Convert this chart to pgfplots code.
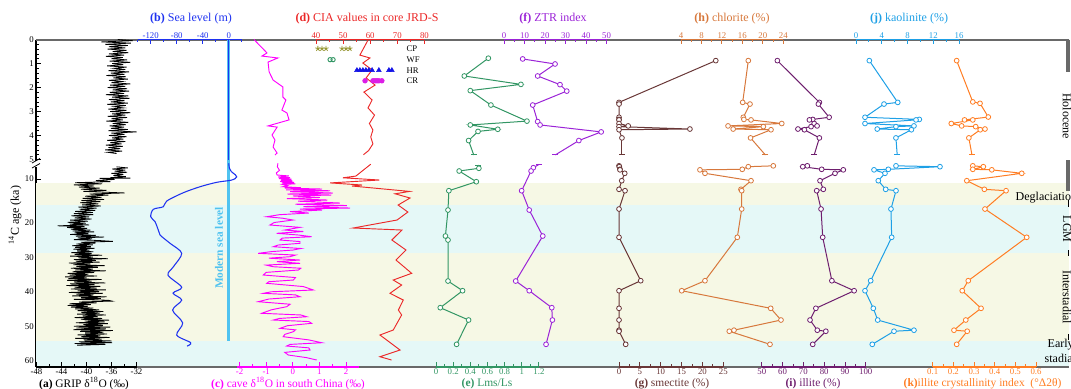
\documentclass[border=0pt]{standalone}
\usepackage{fontspec}
\setmainfont{Liberation Serif}
\usepackage{pgfplots}
\pgfplotsset{compat=1.18}
\definecolor{frameg}{RGB}{105,105,105}
\definecolor{bandY}{RGB}{246,248,229}
\definecolor{bandC}{RGB}{229,248,247}
\definecolor{seab}{RGB}{30,50,240}
\definecolor{modb}{RGB}{80,195,240}
\definecolor{cavem}{RGB}{255,0,255}
\definecolor{ciar}{RGB}{235,40,40}
\definecolor{lmsg}{RGB}{50,150,100}
\definecolor{ztrp}{RGB}{155,35,215}
\definecolor{smeb}{RGB}{105,55,55}
\definecolor{chlo}{RGB}{215,120,60}
\definecolor{illp}{RGB}{110,30,110}
\definecolor{kaob}{RGB}{30,160,230}
\definecolor{icio}{RGB}{255,125,35}
\definecolor{cpo}{RGB}{150,150,50}
\definecolor{hrb}{RGB}{20,20,230}
\definecolor{crm}{RGB}{220,30,230}
\newcommand{\tf}{\fontsize{6.6}{7.5}\selectfont}
\newcommand{\lf}{\fontsize{9}{10}\selectfont}
\newcommand{\blf}{\fontsize{8.6}{9.5}\selectfont}
\pgfplotsset{
  agebase/.style={scale only axis, width=774.75pt, height=245.625pt,
    at={(27pt,-29.625pt)}, anchor=north west, y dir=reverse, ymin=0, ymax=61.73,
    y coord trafo/.code={\pgfmathparse{##1<=6 ? 39.5+24*##1 : (##1<=20 ? 222.5-4.35*(20-##1) : 222.5+3.4625*(##1-20))}}},
  panel/.style={agebase, clip=false, hide y axis, axis line style={draw=none},
    tick align=inside, major tick length=3.5pt, minor tick length=2pt,
    tick style={color=#1, line width=0.7pt},
    xticklabel style={text=#1, font=\tf, inner sep=0.8pt},
    /pgf/number format/assume math mode=true},
  top/.style={panel=#1, xtick pos=right, xticklabel pos=right},
  bot/.style={panel=#1, xtick pos=left, xticklabel pos=left},
  ser/.style={color=#1, line width=0.75pt, mark=*, mark size=1.8pt, mark options={fill=white, line width=0.6pt, solid}},
  endseg/.style={color=#1, line width=0.75pt, mark=-, mark size=2.2pt, mark indices={2}},
}
\begin{document}
\begin{tikzpicture}[x=0.75pt,y=-0.75pt]
% ---------- main frame ----------
\begin{axis}[agebase, xmin=0, xmax=1, axis x line=none, axis y line*=left,
  y axis line style={black, line width=0.8pt},
  ytick={0,1,2,3,4,5,10,20,30,40,50,60},
  yticklabels={0,1,2,3,4,5,10,20,30,40,50,60},
  minor ytick={0.2,0.4,0.6,0.8,1.2,1.4,1.6,1.8,2.2,2.4,2.6,2.8,3.2,3.4,3.6,3.8,4.2,4.4,4.6,4.8,12,14,16,18,22,24,26,28,32,34,36,38,42,44,46,48,52,54,56,58},
  tick align=inside, major tick length=3.5pt, minor tick length=2pt,
  tick style={black, line width=0.6pt}, yticklabel style={font=\tf, inner sep=1.5pt}]
\fill[bandY] (axis cs:0,10.85) rectangle (axis cs:1,16.05);
\fill[bandC] (axis cs:0,16.05) rectangle (axis cs:1,28.9);
\fill[bandY] (axis cs:0,28.9) rectangle (axis cs:1,54.1);
\fill[bandC] (axis cs:0,54.1) rectangle (axis cs:1,61.73);
\draw[frameg, line width=1.6pt] (axis cs:0,0) -- (axis cs:1,0);
\draw[frameg, line width=1.6pt] (axis cs:0,61.73) -- (axis cs:1,61.73);
\end{axis}
% ---------- (a) GRIP ----------
\begin{axis}[bot=black, xmin=-48.08, xmax=117.2, xtick={-48,-44,-40,-36,-32}, minor xtick={-46,-42,-38,-34}]
\draw[black, line width=1.4pt] (axis cs:-48.08,61.73) -- (axis cs:-32,61.73);
\addplot[black, line width=0.6pt] coordinates {
(-35.0,0) (-32.6,0.05) (-37.6,0.1) (-32.9,0.15) (-37.0,0.2) (-33.4,0.25) (-36.4,0.3) (-33.8,0.35) (-36.6,0.4) (-33.6,0.45) (-35.8,0.5) (-33.3,0.55) (-36.4,0.6) (-34.0,0.65) (-36.9,0.7) (-34.2,0.75) (-36.0,0.8) (-33.5,0.85) (-36.3,0.9) (-33.0,0.95) (-35.9,1.0) (-34.1,1.05) (-36.7,1.1) (-33.6,1.15) (-35.6,1.2) (-33.8,1.25) (-36.5,1.3) (-33.2,1.35) (-36.1,1.4) (-33.9,1.45) (-36.8,1.5) (-33.7,1.55) (-35.7,1.6) (-33.4,1.65) (-36.4,1.7) (-34.3,1.75) (-36.0,1.8) (-33.0,1.85) (-36.2,1.9) (-33.8,1.95) (-36.6,2.0) (-33.5,2.05) (-35.8,2.1) (-33.2,2.15) (-36.3,2.2) (-34.0,2.25) (-36.9,2.3) (-33.3,2.35) (-35.9,2.4) (-33.1,2.45) (-36.4,2.5) (-33.9,2.55) (-36.1,2.6) (-33.4,2.65) (-36.7,2.7) (-33.7,2.75) (-35.6,2.8) (-34.1,2.85) (-36.5,2.9) (-33.6,2.95) (-36.2,3.0) (-33.0,3.05) (-35.9,3.1) (-33.8,3.15) (-36.6,3.2) (-33.5,3.25) (-36.0,3.3) (-34.2,3.35) (-36.8,3.4) (-33.3,3.45) (-35.8,3.5) (-33.7,3.55) (-36.3,3.6) (-34.0,3.65) (-36.1,3.7) (-33.4,3.75) (-36.5,3.8) (-32.0,3.85) (-36.0,3.9) (-33.9,3.95) (-36.4,4.0) (-33.6,4.05) (-35.9,4.1) (-34.1,4.15) (-36.7,4.2) (-33.8,4.25) (-36.2,4.3) (-34.4,4.35) (-36.9,4.4) (-34.2,4.45) (-36.5,4.5) (-34.6,4.55) (-37.0,4.6) (-34.3,4.65) (-36.6,4.7) (-35.2,4.75)};
\addplot[black, line width=0.6pt] coordinates {
(-35.2,7.2) (-33.4,7.45) (-35.9,7.7) (-33.8,7.95) (-35.5,8.2) (-33.5,8.45) (-36.0,8.7) (-34.1,8.95) (-35.7,9.2) (-33.7,9.45) (-36.2,9.7) (-33.0,9.8) (-37.9,9.85)
(-35.5,10.1) (-38.5,10.35) (-36.2,10.6) (-41.8,10.85) (-37.5,11.1) (-42.0,11.35) (-38.8,11.6) (-41.2,11.85) (-37.9,12.1) (-40.9,12.35) (-36.8,12.6) (-40.5,12.85) (-33.9,13.2) (-39.5,13.45) (-36.5,13.7) (-40.2,13.95) (-37.6,14.2) (-40.6,14.45) (-37.2,14.7) (-40.8,14.95) (-37.8,15.2) (-41.0,15.45) (-38.1,15.7) (-40.7,15.95) (-37.7,16.2) (-41.3,16.45) (-38.4,16.7) (-41.1,16.95) (-38.6,17.2) (-41.8,17.45) (-39.0,17.7) (-42.0,17.95) (-38.9,18.2) (-42.4,18.45) (-39.6,18.7) (-41.9,18.95) (-39.2,19.2) (-42.6,19.45) (-39.8,19.7) (-43.0,19.95)
(-40.1,20.2) (-42.7,20.45) (-39.6,20.7) (-44.6,20.95) (-40.3,21.2) (-43.1,21.45) (-39.9,21.7) (-42.5,21.95) (-39.4,22.2) (-42.2,22.45) (-38.8,22.7) (-41.9,22.95) (-39.7,23.2) (-42.6,23.45) (-38.5,23.7) (-41.7,23.95) (-37.2,24.2) (-41.4,24.45) (-39.1,24.7) (-42.0,24.95) (-38.0,25.2) (-35.8,25.45) (-40.9,25.7) (-38.6,25.95) (-41.6,26.2) (-39.0,26.45) (-42.3,26.7) (-39.3,26.95) (-41.8,27.2) (-38.7,27.45) (-42.1,27.7) (-39.5,27.95) (-41.5,28.2) (-38.9,28.45) (-42.4,28.7) (-39.2,28.95) (-41.9,29.2) (-37.5,29.45) (-42.6,29.7) (-39.0,29.95)
(-41.3,30.2) (-36.6,30.45) (-42.0,30.7) (-38.5,30.95) (-41.7,31.2) (-37.9,31.45) (-42.8,31.7) (-39.4,31.95) (-42.1,32.2) (-37.1,32.45) (-41.6,32.7) (-38.2,32.95) (-42.5,33.2) (-39.0,33.45) (-41.8,33.7) (-36.9,33.95) (-42.2,34.2) (-38.8,34.45) (-43.0,34.7) (-39.7,34.95) (-42.7,35.2) (-38.3,35.45) (-43.4,35.7) (-40.0,35.95) (-42.9,36.2) (-37.6,36.45) (-43.1,36.7) (-39.2,36.95) (-42.0,37.2) (-37.0,37.45) (-42.6,37.7) (-38.7,37.95) (-43.2,38.2) (-37.8,38.45) (-41.9,38.7) (-38.4,38.95) (-42.5,39.2) (-36.9,39.45) (-41.4,39.7) (-38.0,39.95)
(-42.8,40.2) (-37.4,40.45) (-41.6,40.7) (-38.9,40.95) (-42.3,41.2) (-36.8,41.45) (-40.9,41.7) (-37.7,41.95) (-42.0,42.2) (-36.5,42.45) (-35.9,42.7) (-41.2,42.95) (-38.4,43.2) (-42.7,43.45) (-39.3,43.7) (-43.0,43.95) (-39.8,44.2) (-42.5,44.45) (-38.9,44.7) (-41.8,44.95) (-38.0,45.2) (-41.4,45.45) (-37.3,45.7) (-40.8,45.95) (-37.9,46.2) (-41.5,46.45) (-36.9,46.7) (-40.6,46.95) (-38.2,47.2) (-41.9,47.45) (-37.5,47.7) (-40.9,47.95) (-36.4,48.2) (-40.3,48.45) (-37.1,48.7) (-41.7,48.95) (-36.6,49.2) (-40.5,49.45) (-37.4,49.7) (-42.0,49.95)
(-36.2,50.2) (-41.6,50.45) (-36.9,50.7) (-42.1,50.95) (-35.8,51.2) (-41.0,51.45) (-37.3,51.7) (-40.2,51.95) (-36.7,52.2) (-41.4,52.45) (-37.8,52.7) (-40.8,52.95) (-36.3,53.2) (-41.8,53.45) (-37.6,53.7) (-40.4,53.95) (-36.0,54.2) (-41.2,54.45) (-35.9,54.7) (-41.9,54.95) (-37.0,55.2) (-41.5,55.45)};
\end{axis}
% ---------- (b) sea level ----------
\begin{axis}[top=seab, xmin=-296.5, xmax=1292.8, xtick={-120,-80,-40,0}, minor xtick={-140,-100,-60,-20,20}]
\draw[seab, line width=1.4pt] (axis cs:-140,0) -- (axis cs:20,0);
\addplot[modb, line width=2pt] coordinates {(0,0) (0,54.1)};
\addplot[seab, line width=0.8pt] coordinates {(0,0) (0,5.0)};
\addplot[seab, line width=0.8pt, smooth, tension=0.5] coordinates {
(0,6.39) (1,7.5) (4,8.3) (10,9.0) (12.3,9.5) (10,9.9) (3,10.3) (-18.5,10.76) (-44,11.77) (-69.8,13.15) (-95.4,15.06) (-100.6,16.37) (-116,16.97) (-120,18.67) (-113.4,19.8) (-108.3,22.2) (-105.7,23.6) (-90.3,26.0) (-72.3,28.9) (-85.2,32.8) (-93.4,35.2) (-72.3,38.7) (-85.7,40.4) (-72.3,42.4) (-86.3,45.3) (-70.8,49.0) (-80,52.5) (-58.5,54.7) (-64.2,55.7)};
\end{axis}
% ---------- (c) cave ----------
\begin{axis}[bot=cavem, xmin=-9.654, xmax=29.18, xtick={-2,-1,0,1,2}, minor xtick={-1.5,-0.5,0.5,1.5}]
\draw[cavem, line width=1.4pt] (axis cs:-2.1,61.73) -- (axis cs:2.5,61.73);
\addplot[cavem, line width=0.7pt] coordinates {
(-1.46,0) (-0.97,0.56) (-1.16,0.69) (-0.56,0.77) (-0.93,0.94) (-0.89,1.35) (-0.74,1.69) (-0.37,1.98) (-0.37,2.40) (-0.26,2.52) (-0.41,2.94) (-0.22,3.06) (-0.14,3.35) (-0.93,3.60) (-0.59,3.65) (-0.78,3.98) (-0.67,4.19) (-0.74,4.48) (-0.59,4.73) (-0.67,4.81)};
\addplot[cavem, line width=0.7pt] coordinates {
(-0.56,6.39) (-0.58,7.2) (-0.50,8.0) (-0.62,8.6) (-0.59,9.08) (-0.15,9.3) (-0.55,9.54) (-0.10,9.7) (-0.52,9.89) (-0.05,10.05) (-0.45,10.23) (-0.02,10.4) (-0.48,10.57) (0.05,10.75) (-0.41,10.92) (0.10,11.1) (-0.37,11.26) (-0.20,11.5) (-0.37,11.77) (0.30,12.0) (-0.30,12.1) (1.10,12.3) (-0.25,12.5) (1.40,12.7) (-0.10,12.92) (1.51,13.22) (-0.20,13.45) (1.45,13.68) (0.00,13.9) (1.02,14.25) (-0.22,14.5) (1.30,14.83) (0.20,15.1) (1.77,15.52) (0.10,15.8) (2.03,16.1) (0.40,16.37) (2.15,16.67) (0.27,16.9) (1.10,17.13) (-0.11,17.5) (0.60,17.82) (-0.50,18.2) (-0.98,18.67) (-0.40,19.0) (0.01,19.43) (-0.70,20.0) (-0.86,20.72) (0.27,21.4) (-0.30,22.17) (0.40,22.6) (-0.61,23.12) (0.20,23.6) (0.71,24.10) (-0.40,24.5) (-0.48,25.05) (0.27,25.5) (0.27,26.01) (-0.55,26.5) (-0.73,26.99) (0.30,27.5) (0.02,27.94) (-0.80,28.4) (-1.30,28.90) (0.10,29.4) (-0.11,29.88) (-0.90,30.3) (0.27,30.83) (-0.60,31.3) (0.27,31.78) (-1.00,32.3) (-0.73,32.77) (0.30,33.2) (0.21,33.72) (-1.00,34.4) (-1.11,35.16) (0.10,35.9) (0.02,36.61) (-0.90,37.1) (-0.98,37.56) (0.40,38.5) (0.77,39.49) (-0.80,40.0) (-1.11,40.45) (0.10,40.9) (0.27,41.43) (-0.90,42.1) (-1.30,42.87) (-0.10,43.6) (-0.23,44.32) (-0.80,45.2) (-1.17,46.22) (0.30,46.7) (0.52,47.21) (-0.50,47.7) (-0.73,48.16) (0.60,48.6) (0.71,49.11) (-0.20,49.8) (-0.48,50.56) (0.10,51.0) (0.02,51.54) (-0.30,52.3) (-0.36,52.98) (0.60,53.9) (1.09,54.72) (-0.10,55.2) (-0.23,55.67) (0.60,56.2) (0.65,56.82) (-0.30,57.5) (-0.17,58.27) (0.50,59.0) (0.90,59.71)};
\end{axis}
% ---------- (d) CIA ----------
\begin{axis}[top=ciar, xmin=-63.32, xmax=317.86, xtick={40,50,60,70,80}, minor xtick={45,55,65,75}]
\draw[ciar, line width=1.4pt] (axis cs:40,0) -- (axis cs:80,0);
\addplot[ciar, line width=0.7pt] coordinates {
(59.2,0.02) (56.2,0.65) (59.9,0.77) (57.3,0.98) (60.7,1.27) (58.5,1.60) (61.8,1.90) (57.7,2.19) (60.7,2.52) (59.2,2.85) (61.6,3.15) (59.7,3.50) (61.0,3.77) (60.2,4.06) (61.0,4.35) (59.4,4.63) (57.5,4.80)};
\addplot[ciar, line width=0.7pt] coordinates {
(60.2,6.60) (54.7,9.33) (49.9,9.72) (63.4,10.23) (45.2,10.90) (57.0,11.38) (53.3,11.61) (74.5,12.85) (69.2,13.4) (74.7,14.37) (70.3,15.98) (73.9,17.59) (69.9,19.43) (53.7,21.59) (71.7,22.17) (68.0,25.05) (73.2,27.94) (69.5,30.83) (75.3,34.67) (68.5,36.61) (71.6,38.05) (67.3,40.45) (72.2,42.38) (70.4,45.27) (71.6,46.71) (68.5,51.05) (63.6,52.49) (66.1,53.94) (71.0,56.82) (63.6,58.76) (67.9,59.71)};
\addplot[only marks, mark=star, mark size=2pt, color=cpo, mark options={line width=0.6pt}] coordinates {(40.7,0.38) (42.2,0.38) (43.7,0.38) (49.6,0.38) (51.1,0.38) (52.5,0.38)};
\addplot[only marks, mark=o, mark size=1.6pt, color=lmsg, mark options={line width=0.7pt}] coordinates {(45.2,0.84) (46.3,0.84)};
\addplot[only marks, mark=triangle*, mark size=2pt, color=hrb] coordinates {(55.1,1.28) (56.2,1.28) (57.3,1.28) (58.4,1.28) (59.5,1.28) (60.7,1.28) (63.2,1.28) (66.9,1.28) (68.0,1.28)};
\addplot[only marks, mark=*, mark size=1.8pt, color=crm] coordinates {(58.1,1.72) (61.0,1.72) (61.8,1.72) (62.5,1.72) (63.2,1.72) (64.3,1.72)};
\end{axis}
% ---------- (e) Lms/Ls ----------
\begin{axis}[bot=lmsg, xmin=-4.662, xmax=7.378, xtick={0,0.2,0.4,0.6,0.8,1,1.2}, minor xtick={0.1,0.3,0.5,0.7,0.9,1.1}]
\draw[lmsg, line width=1.4pt] (axis cs:0,61.73) -- (axis cs:1.2,61.73);
\addplot[endseg=lmsg] coordinates {(0.38,4.21) (0.44,4.81)};
\addplot[endseg=lmsg] coordinates {(0.50,7.54) (0.49,6.78)};
\addplot[ser=lmsg] coordinates {(0.61,0.78) (0.33,1.52) (0.99,1.87) (0.40,2.13) (0.64,2.73) (1.06,3.40) (0.40,3.56) (0.72,3.74) (0.49,3.83) (0.38,4.21)};
\addplot[ser=lmsg] coordinates {(0.50,7.54) (0.27,8.16) (0.47,10.62) (0.15,12.69) (0.14,17.13) (0.11,23.9) (0.14,25.05) (0.14,36.9) (0.31,39.7) (0.05,44.6) (0.38,48.16) (0.24,55.18)};
\end{axis}
% ---------- (f) ZTR ----------
\begin{axis}[top=ztrp, xmin=-228.3, xmax=275.6, xtick={0,10,20,30,40,50}, minor xtick={5,15,25,35,45}]
\draw[ztrp, line width=1.4pt] (axis cs:0,0) -- (axis cs:50,0);
\addplot[endseg=ztrp] coordinates {(36.5,4.21) (25.0,4.81)};
\addplot[endseg=ztrp] coordinates {(14.3,7.40) (17.2,6.62)};
\addplot[ser=ztrp] coordinates {(9.1,0.81) (24.9,1.02) (16.4,1.52) (27.3,1.88) (30.6,2.15) (14.0,2.73) (16.4,3.42) (17.6,3.56) (47.4,3.85) (36.5,4.21)};
\addplot[ser=ztrp] coordinates {(14.3,7.40) (13.2,8.16) (8.6,12.69) (12.3,17.13) (18.9,23.9) (5.7,36.9) (12.3,39.7) (23.3,44.6) (23.6,48.16) (20.5,55.18)};
\end{axis}
% ---------- (g) smectite ----------
\begin{axis}[bot=smeb, xmin=-139.8, xmax=107.9, xtick={0,5,10,15,20,25}, minor xtick={2.5,7.5,12.5,17.5,22.5}]
\draw[smeb, line width=1.4pt] (axis cs:0,61.73) -- (axis cs:25,61.73);
\addplot[endseg=smeb] coordinates {(0.7,4.10) (0.7,4.81)};
\addplot[ser=smeb] coordinates {(23.2,0.88) (0,2.62) (0,2.69) (0,3.24) (0,3.33) (0,3.35) (0,3.50) (2.2,3.60) (0,3.63) (17.0,3.73) (0,3.76) (0.7,4.10)};
\addplot[ser=smeb] coordinates {(0,6.97) (0.07,7.17) (0.24,7.77) (0.24,7.89) (1.37,8.69) (0.65,10.39) (0,12.37) (1.44,12.69) (0,16.9) (0,24.27) (5.2,36.81) (0,39.7) (0,44.78) (0,48.16) (0,51.1) (0,51.4) (1.6,55.18)};
\end{axis}
% ---------- (h) chlorite ----------
\begin{axis}[top=chlo, xmin=-122.1, xmax=79.86, xtick={4,8,12,16,20,24}, minor xtick={6,10,14,18,22}]
\draw[chlo, line width=1.4pt] (axis cs:4,0) -- (axis cs:24,0);
\addplot[endseg=chlo] coordinates {(17.6,4.10) (20.5,4.81)};
\addplot[ser=chlo] coordinates {(17.16,0.88) (16.06,2.62) (17.49,2.69) (16.18,3.24) (16.3,3.33) (17.69,3.35) (23.7,3.50) (13.2,3.60) (20.1,3.63) (14.2,3.73) (21.6,3.76) (17.6,4.10)};
\addplot[ser=chlo] coordinates {(22.05,6.97) (17.16,7.17) (15.98,7.77) (7.71,7.89) (8.69,8.69) (17.69,10.39) (15.73,12.37) (15.87,12.69) (15.87,16.9) (15.01,24.27) (8.69,36.81) (4.14,39.7) (21.54,44.78) (23.55,48.16) (14.36,51.1) (13.44,51.4) (21.4,55.18)};
\end{axis}
% ---------- (i) illite ----------
\begin{axis}[bot=illp, xmin=-298.9, xmax=197.7, xtick={50,60,70,80,90,100}, minor xtick={55,65,75,85,95}]
\draw[illp, line width=1.4pt] (axis cs:50,61.73) -- (axis cs:100,61.73);
\addplot[endseg=illp] coordinates {(77.7,4.10) (75.2,4.81)};
\addplot[ser=illp] coordinates {(57.5,0.88) (77.7,2.62) (77.2,2.69) (82.4,3.24) (74.5,3.33) (72.9,3.35) (75.2,3.50) (76.6,3.60) (73.7,3.63) (67.4,3.73) (70.5,3.76) (77.7,4.10)};
\addplot[ser=illp] coordinates {(71.9,6.97) (69.7,7.17) (78.8,7.77) (89.2,7.89) (85.2,8.69) (78.0,10.39) (79.6,12.37) (76.4,12.69) (78.5,16.9) (79.3,24.27) (83.7,36.81) (94.4,39.7) (76.0,44.78) (73.2,48.16) (76.7,51.1) (80.8,51.4) (74.5,55.18)};
\end{axis}
% ---------- (j) kaolinite ----------
\begin{axis}[top=kaob, xmin=-127.3, xmax=33.07, xtick={0,4,8,12,16}, minor xtick={2,6,10,14}]
\draw[kaob, line width=1.4pt] (axis cs:0,0) -- (axis cs:16,0);
\addplot[endseg=kaob] coordinates {(6.2,4.10) (6.4,4.81)};
\addplot[ser=kaob] coordinates {(2.07,0.88) (6.48,2.62) (4.35,2.69) (1.40,3.24) (9.83,3.33) (9.32,3.35) (1.4,3.50) (9.0,3.60) (6.2,3.63) (3.3,3.73) (8.6,3.76) (6.2,4.10)};
\addplot[ser=kaob] coordinates {(6.21,6.97) (13.04,7.17) (5.02,7.77) (2.80,7.89) (4.50,8.69) (3.46,10.39) (4.61,12.37) (6.21,12.69) (5.43,16.9) (5.54,24.27) (2.28,36.81) (1.40,39.7) (2.69,44.78) (3.37,48.16) (9.0,51.1) (5.9,51.4) (2.53,55.18)};
\end{axis}
% ---------- (k) illite crystallinity ----------
\begin{axis}[bot=icio, xmin=-4.240, xmax=0.7597, xtick={0.1,0.2,0.3,0.4,0.5,0.6}, minor xtick={0.15,0.25,0.35,0.45,0.55}]
\draw[icio, line width=1.4pt] (axis cs:0.1,61.73) -- (axis cs:0.6,61.73);
\addplot[endseg=icio] coordinates {(0.275,4.10) (0.29,4.81)};
\addplot[ser=icio] coordinates {(0.216,0.88) (0.294,2.60) (0.329,2.66) (0.369,3.23) (0.254,3.35) (0.294,3.35) (0.19,3.50) (0.24,3.60) (0.308,3.63) (0.353,3.73) (0.33,3.76) (0.275,4.10)};
\addplot[ser=icio] coordinates {(0.294,6.97) (0.345,7.17) (0.294,7.77) (0.386,7.89) (0.531,8.69) (0.265,10.39) (0.350,12.37) (0.455,12.69) (0.353,16.9) (0.555,24.27) (0.272,36.81) (0.243,39.7) (0.334,44.78) (0.260,48.16) (0.203,51.1) (0.267,51.4) (0.216,55.18)};
\end{axis}
% ---------- decorations & labels ----------
\fill[white] (32,160.5) rectangle (40,166.5);
\draw[black, line width=0.6pt] (32,163) -- (40,158.5);
\draw[black, line width=0.6pt] (32,168) -- (40,163.5);
\node[rotate=90, font=\lf] at (15,215) {\textsuperscript{14}C age (ka)};
\node[rotate=90, font=\fontsize{8.5}{9}\selectfont\bfseries, text=modb] at (219,248) {Modern sea level};
\node[font=\lf, text=seab] at (191,19) {\textbf{(b)} Sea level (m)};
\node[font=\lf, text=ciar] at (367,19) {\textbf{(d)} CIA values in core JRD-S};
\node[font=\lf, text=ztrp] at (553,19) {\textbf{(f)} ZTR index};
\node[font=\lf, text=chlo] at (732,19) {\textbf{(h)} chlorite (\%)};
\node[font=\lf, text=kaob] at (909,19) {\textbf{(j)} kaolinite (\%)};
\node[font=\blf, text=black] at (84,383.5) {\textbf{(a)} GRIP δ\textsuperscript{18}O (‰)};
\node[font=\blf, text=cavem] at (288,383.5) {\textbf{(c)} cave δ\textsuperscript{18}O in south China (‰)};
\node[font=\blf, text=lmsg] at (487,383.5) {\textbf{(e)} Lms/Ls};
\node[font=\blf, text=smeb] at (672,383.5) {\textbf{(g)} smectite (\%)};
\node[font=\blf, text=illp] at (813,383.5) {\textbf{(i)} illite (\%)};
\node[font=\blf, text=icio, anchor=west] at (899,383.5) {\textbf{(k)}illite crystallinity index \ (°Δ2θ)};
\node[font=\fontsize{6.5}{7}\selectfont, anchor=west] at (402,48.7) {CP};
\node[font=\fontsize{6.5}{7}\selectfont, anchor=west] at (402,59.7) {WF};
\node[font=\fontsize{6.5}{7}\selectfont, anchor=west] at (402,70.3) {HR};
\node[font=\fontsize{6.5}{7}\selectfont, anchor=west] at (402,80.7) {CR};
\draw[frameg, line width=2.4pt] (1068,39.5) -- (1068,72);
\draw[frameg, line width=2.4pt] (1068,160) -- (1068,191);
\draw[black, line width=0.6pt] (1068,200) -- (1068,207);
\draw[black, line width=0.6pt] (1068,250) -- (1068,256);
\draw[black, line width=0.6pt] (1068,334) -- (1068,340);
\node[rotate=-90, font=\lf] at (1067,116) {Holocene};
\node[font=\lf, anchor=west] at (1011,198) {Deglaciation};
\node[rotate=-90, font=\lf] at (1067,229) {LGM};
\node[rotate=-90, font=\lf] at (1067,297) {Interstadial};
\node[font=\lf, anchor=west] at (1043,345) {Early};
\node[font=\lf, anchor=west] at (1040,358) {stadial};
\pgfresetboundingbox
\path[use as bounding box] (0,0) rectangle (1071,389);
\end{tikzpicture}
\end{document}
